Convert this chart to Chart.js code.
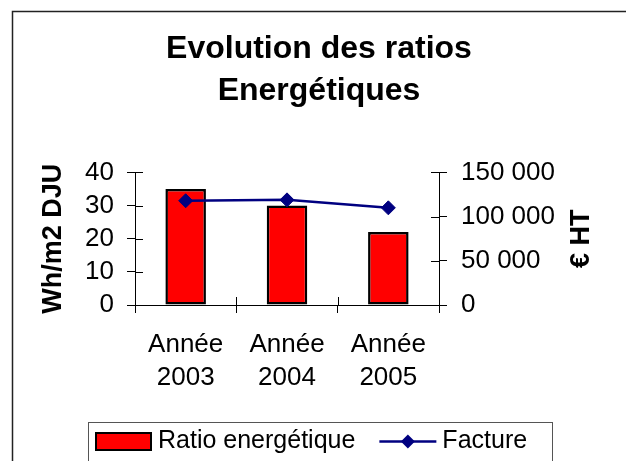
<!DOCTYPE html>
<html lang="fr">
<head>
<meta charset="utf-8">
<title>Evolution des ratios Energétiques</title>
<script src="https://cdn.jsdelivr.net/npm/chart.js@4.4.1/dist/chart.umd.min.js"></script>
<style>
  html, body { margin: 0; padding: 0; background: #fff; }
  #wrap { width: 626px; height: 461px; }
</style>
</head>
<body>
<div id="wrap"><canvas id="ratioChart" width="626" height="461"></canvas></div>
<script>
// données
const categories = [["Année", "2003"], ["Année", "2004"], ["Année", "2005"]];
const ratioValues = [35, 30, 22];
const factureValues = [118000, 119000, 110000];
const ratioTicks = [0, 10, 20, 30, 40];
const factureTicks = [0, 50000, 100000, 150000];

const FONT = "'Liberation Sans', Arial, sans-serif";
Chart.defaults.font.family = FONT;
Chart.defaults.color = "#000";

function fmtEuro(v) {
  return String(v).replace(/\B(?=(\d{3})+(?!\d))/g, " ");
}

// ticks qui traversent l'axe (style Excel)
const crossTicks = {
  id: "crossTicks",
  afterDatasetsDraw(chart) {
    const { ctx, chartArea, scales } = chart;
    ctx.save();
    ctx.strokeStyle = "#000";
    ctx.lineWidth = 1;
    ctx.beginPath();
    scales.y.ticks.forEach((t, i) => {
      const py = Math.round(scales.y.getPixelForTick(i)) + 0.5;
      ctx.moveTo(chartArea.left, py); ctx.lineTo(chartArea.left + 8, py);
    });
    scales.y1.ticks.forEach((t, i) => {
      const py = Math.round(scales.y1.getPixelForTick(i)) + 0.5;
      ctx.moveTo(chartArea.right - 8, py); ctx.lineTo(chartArea.right, py);
    });
    for (let i = 0; i <= categories.length; i++) {
      const px = Math.round(scales.x.getPixelForValue(i - 0.5)) + 0.5;
      ctx.moveTo(px, chartArea.bottom - 8); ctx.lineTo(px, chartArea.bottom);
    }
    ctx.stroke();
    ctx.restore();
  }
};

// titre de l'axe droit (lu de bas en haut) + cadre + légende
const decor = {
  id: "decor",
  afterDraw(chart) {
    const { ctx, chartArea } = chart;
    const ds = chart.data.datasets;
    ctx.save();

    // cadre du graphique
    ctx.strokeStyle = "#222";
    ctx.lineWidth = 1.5;
    ctx.strokeRect(12.5, 11.5, 640, 480);

    // "€ HT"
    ctx.translate(582, (chartArea.top + chartArea.bottom) / 2);
    ctx.rotate(-Math.PI / 2);
    ctx.font = "bold 27px " + FONT;
    ctx.fillStyle = "#000";
    ctx.textAlign = "center";
    ctx.textBaseline = "middle";
    ctx.fillText("€ HT", 0, 0);
    ctx.setTransform(1, 0, 0, 1, 0, 0);

    // légende
    ctx.strokeStyle = "#555";
    ctx.lineWidth = 1;
    ctx.strokeRect(88.5, 422.5, 464, 60);
    ctx.font = "25px " + FONT;
    ctx.textAlign = "left";
    ctx.textBaseline = "middle";
    const ly = 441.5;

    let x = 96;
    ctx.fillStyle = ds[0].backgroundColor;
    ctx.fillRect(x, 433, 55, 17);
    ctx.strokeStyle = ds[0].borderColor;
    ctx.lineWidth = 2;
    ctx.strokeRect(x, 433, 55, 17);
    x += 62;
    ctx.fillStyle = "#000";
    ctx.fillText(ds[0].label, x, ly);
    x += ctx.measureText(ds[0].label).width + 24;

    ctx.strokeStyle = ds[1].borderColor;
    ctx.lineWidth = ds[1].borderWidth;
    ctx.beginPath();
    ctx.moveTo(x, ly); ctx.lineTo(x + 57, ly);
    ctx.stroke();
    ctx.fillStyle = ds[1].pointBackgroundColor;
    const cx = x + 28.5, r = ds[1].pointRadius;
    ctx.beginPath();
    ctx.moveTo(cx - r, ly); ctx.lineTo(cx, ly - r); ctx.lineTo(cx + r, ly); ctx.lineTo(cx, ly + r);
    ctx.closePath();
    ctx.fill();
    x += 63;
    ctx.fillStyle = "#000";
    ctx.fillText(ds[1].label, x, ly);

    ctx.restore();
  }
};

const ctx = document.getElementById("ratioChart").getContext("2d");
new Chart(ctx, {
  data: {
    labels: categories,
    datasets: [
      {
        type: "bar",
        label: "Ratio energétique",
        data: ratioValues,
        yAxisID: "y",
        backgroundColor: "#ff0000",
        borderColor: "#000",
        borderWidth: 2.5,
        borderSkipped: false,
        categoryPercentage: 1,
        barPercentage: 0.4,
        order: 2
      },
      {
        type: "line",
        label: "Facture",
        data: factureValues,
        yAxisID: "y1",
        borderColor: "#000080",
        borderWidth: 2.5,
        pointStyle: "rectRot",
        pointRadius: 7,
        pointBackgroundColor: "#000080",
        pointBorderColor: "#000080",
        pointBorderWidth: 1,
        tension: 0,
        order: 1
      }
    ]
  },
  options: {
    responsive: false,
    animation: false,
    devicePixelRatio: 1,
    layout: { padding: { left: 12, right: 0, top: 0, bottom: 0 } },
    plugins: {
      legend: { display: false },
      tooltip: { enabled: false },
      title: {
        display: true,
        text: ["Evolution des ratios", "Energétiques"],
        color: "#000",
        font: { size: 32, weight: "bold", lineHeight: 1.32 },
        padding: { top: 28, bottom: 60 }
      }
    },
    scales: {
      x: {
        offset: true,
        grid: { offset: true, drawOnChartArea: false, drawTicks: true, tickLength: 8, color: "#000" },
        border: { color: "#000", width: 1 },
        ticks: { font: { size: 26, lineHeight: 1.24 }, color: "#000", padding: 16, maxRotation: 0 },
        afterFit: s => { s.height = 156; }
      },
      y: {
        position: "left",
        min: ratioTicks[0],
        max: ratioTicks[ratioTicks.length - 1],
        afterBuildTicks: s => { s.ticks = ratioTicks.map(v => ({ value: v })); },
        grid: { drawOnChartArea: false, tickLength: 8, color: "#000" },
        border: { color: "#000", width: 1 },
        ticks: { font: { size: 26 }, color: "#000", padding: 13, autoSkip: false },
        title: {
          display: true,
          text: "Wh/m2 DJU",
          color: "#000",
          font: { size: 27, weight: "bold", lineHeight: 1 },
          padding: { top: 28, bottom: 0 }
        },
        afterFit: s => { s.width = 123; }
      },
      y1: {
        position: "right",
        min: factureTicks[0],
        max: factureTicks[factureTicks.length - 1],
        afterBuildTicks: s => { s.ticks = factureTicks.map(v => ({ value: v })); },
        grid: { drawOnChartArea: false, tickLength: 8, color: "#000" },
        border: { color: "#000", width: 1 },
        ticks: { font: { size: 26 }, color: "#000", padding: 14, autoSkip: false, callback: v => fmtEuro(v) },
        afterFit: s => { s.width = 187; }
      }
    }
  },
  plugins: [crossTicks, decor]
});
</script>
</body>
</html>
